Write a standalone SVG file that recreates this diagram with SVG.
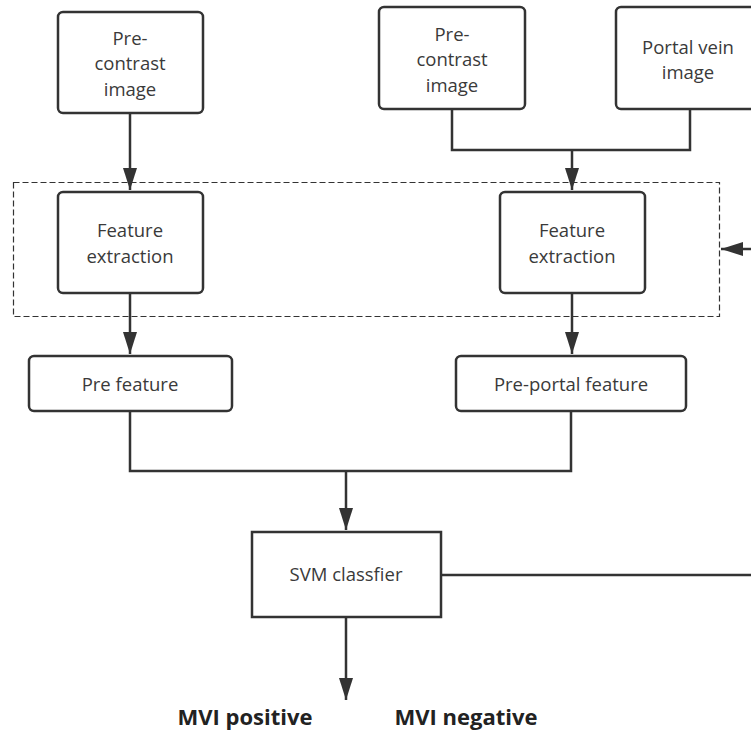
<svg xmlns="http://www.w3.org/2000/svg" width="751" height="732" viewBox="0 0 751 732">
<style>
.box{fill:#fff;stroke:#333;stroke-width:2.5}
.t{font-family:"Open Sans","Noto Sans",sans-serif;font-size:18.5px;fill:#3a3a3a;text-anchor:middle}
.b{font-family:"Open Sans","Noto Sans",sans-serif;font-size:22px;font-weight:bold;fill:#222;text-anchor:middle}
.c{fill:none;stroke:#333;stroke-width:2.5}
.d{fill:none;stroke:#333;stroke-width:1.2;stroke-dasharray:6,3}
</style>
<defs>
<marker id="ah" markerUnits="userSpaceOnUse" markerWidth="22" markerHeight="14" refX="22" refY="7" orient="auto">
<path d="M0,0 L22,7 L0,14 Z" fill="#333"/>
</marker>
</defs>
<rect width="751" height="732" fill="#fff"/>
<g id="group-feature">
<rect class="d" x="13.5" y="182.5" width="706" height="134"/>
</g>
<g id="connectors">
<path class="c" d="M130,113 V190" marker-end="url(#ah)"/>
<path class="c" d="M452,109 V150 H690 V109"/>
<path class="c" d="M572,150 V190" marker-end="url(#ah)"/>
<path class="c" d="M130,293 V354" marker-end="url(#ah)"/>
<path class="c" d="M572,293 V354" marker-end="url(#ah)"/>
<path class="c" d="M130,411 V471 H571 V411"/>
<path class="c" d="M346,471 V530" marker-end="url(#ah)"/>
<path class="c" d="M441,575 H751"/>
<path class="c" d="M751,249 H721" marker-end="url(#ah)"/>
<path class="c" d="M346,617 V700" marker-end="url(#ah)"/>
</g>
<g id="pre-contrast-1">
<rect class="box" x="58" y="12" width="145" height="101" rx="5"/>
<text class="t" x="130" y="44.5">Pre-</text>
<text class="t" x="130" y="70">contrast</text>
<text class="t" x="130" y="95.5">image</text>
</g>
<g id="pre-contrast-2">
<rect class="box" x="379" y="7" width="146" height="102" rx="5"/>
<text class="t" x="452" y="40.5">Pre-</text>
<text class="t" x="452" y="66">contrast</text>
<text class="t" x="452" y="91.5">image</text>
</g>
<g id="portal-vein">
<rect class="box" x="616" y="7" width="146" height="102" rx="5"/>
<text class="t" x="688" y="53.5">Portal vein</text>
<text class="t" x="688" y="79">image</text>
</g>
<g id="feature-extraction-1">
<rect class="box" x="58" y="192" width="145" height="101" rx="5"/>
<text class="t" x="130" y="237">Feature</text>
<text class="t" x="130" y="262.5">extraction</text>
</g>
<g id="feature-extraction-2">
<rect class="box" x="500" y="192" width="145" height="101" rx="5"/>
<text class="t" x="572" y="237">Feature</text>
<text class="t" x="572" y="262.5">extraction</text>
</g>
<g id="pre-feature">
<rect class="box" x="29" y="356" width="203" height="55" rx="5"/>
<text class="t" x="130" y="391">Pre feature</text>
</g>
<g id="pre-portal-feature">
<rect class="box" x="456" y="356" width="230" height="55" rx="5"/>
<text class="t" x="571" y="391">Pre-portal feature</text>
</g>
<g id="svm">
<rect class="box" x="252" y="532" width="189" height="85"/>
<text class="t" x="346" y="581">SVM classfier</text>
</g>
<g id="labels">
<text class="b" x="245" y="725">MVI positive</text>
<text class="b" x="466" y="725">MVI negative</text>
</g>
</svg>
